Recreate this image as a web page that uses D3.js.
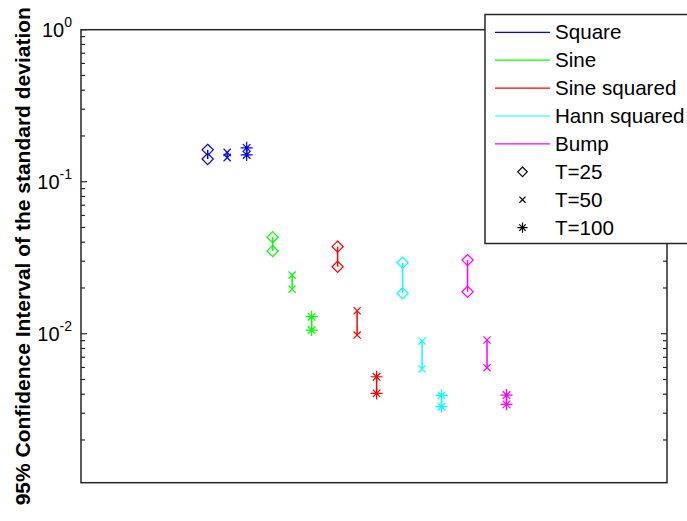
<!DOCTYPE html>
<html>
<head>
<meta charset="utf-8">
<script src="https://cdn.jsdelivr.net/npm/d3@7"></script>
<style>
  html, body { margin: 0; padding: 0; background: #fff; }
  svg { display: block; font-family: "Liberation Sans", Arial, sans-serif; }
</style>
</head>
<body>
<svg id="chart" width="687" height="521"></svg>
<script>
// ---- data ----
const categories = ["Square", "Sine", "Sine squared", "Hann squared", "Bump"];
const seriesColors = ["#0000ff", "#00ff00", "#ff0000", "#00ffff", "#ff00ff"];
const periods = ["T=25", "T=50", "T=100"];
const periodMarkers = ["diamond", "x", "asterisk"];
// lower / upper ends of the 95% CI, per category, per period (T=25, T=50, T=100)
const lowerBounds = [
  [0.141, 0.144, 0.150],
  [0.0350, 0.0196, 0.01057],
  [0.0276, 0.0098, 0.00405],
  [0.01845, 0.00586, 0.00331],
  [0.0189, 0.00598, 0.00343]
];
const upperBounds = [
  [0.162, 0.156, 0.167],
  [0.0431, 0.0243, 0.01294],
  [0.0374, 0.01416, 0.00521],
  [0.0293, 0.00895, 0.00393],
  [0.0305, 0.0091, 0.00395]
];
const yTickValues = [1, 0.1, 0.01];
const yTickExponents = ["0", "-1", "-2"];

// ---- layout ----
const svg = d3.select("#chart");
const mLeft = 81, mRight = 667, mTop = 29.7, mBottom = 482.7;

const x = d3.scaleLinear().domain([-0.95, 8.07]).range([mLeft, mRight]);
const y = d3.scaleLog().domain([Math.pow(10, -2.98), 1]).range([mBottom, mTop]);

// ---- points ----
const points = [];
categories.forEach((c, gi) => {
  periods.forEach((p, ti) => {
    points.push({
      cat: c, gi, ti,
      xv: (gi + 1) + 0.3 * ti,
      lo: lowerBounds[gi][ti],
      hi: upperBounds[gi][ti]
    });
  });
});

function drawMarker(g, type, cx, cy, color, scale) {
  const s = scale || 1;
  if (type === "diamond") {
    const h = 5.6 * s;
    g.append("path")
      .attr("d", `M${cx},${cy - h}L${cx + h},${cy}L${cx},${cy + h}L${cx - h},${cy}Z`)
      .attr("fill", "none").attr("stroke", color).attr("stroke-width", 1.2);
  } else if (type === "x") {
    const h = 3.6 * s;
    g.append("path")
      .attr("d", `M${cx - h},${cy - h}L${cx + h},${cy + h}M${cx - h},${cy + h}L${cx + h},${cy - h}`)
      .attr("fill", "none").attr("stroke", color).attr("stroke-width", 1.2);
  } else {
    const h = 6 * s, d = 3.8 * s;
    g.append("path")
      .attr("d", `M${cx - h},${cy}L${cx + h},${cy}M${cx},${cy - h}L${cx},${cy + h}` +
                 `M${cx - d},${cy - d}L${cx + d},${cy + d}M${cx - d},${cy + d}L${cx + d},${cy - d}`)
      .attr("fill", "none").attr("stroke", color).attr("stroke-width", 1.2);
    g.append("circle").attr("cx", cx).attr("cy", cy).attr("r", 1.8 * s).attr("fill", color);
  }
}

// axes box
svg.append("rect")
  .attr("x", mLeft).attr("y", mTop)
  .attr("width", mRight - mLeft).attr("height", mBottom - mTop)
  .attr("fill", "#fff").attr("stroke", "#262626").attr("stroke-width", 1.5);

// y ticks (major + minor) on left and right
const tickG = svg.append("g");
const [d0, d1] = y.domain();
for (let e = -3; e <= 0; e++) {
  for (let m = 1; m <= 9; m++) {
    const v = m * Math.pow(10, e);
    if (v < d0 * 0.999 || v > d1 * 1.001) continue;
    const py = y(v);
    const len = m === 1 ? 6 : 4;
    tickG.append("line").attr("x1", mLeft).attr("x2", mLeft + len)
      .attr("y1", py).attr("y2", py).attr("stroke", "#262626").attr("stroke-width", 1.2);
    tickG.append("line").attr("x1", mRight).attr("x2", mRight - len)
      .attr("y1", py).attr("y2", py).attr("stroke", "#262626").attr("stroke-width", 1.2);
  }
}

// y tick labels
yTickValues.forEach((v, i) => {
  const t = svg.append("text")
    .attr("x", 72).attr("y", y(v) + 7)
    .attr("text-anchor", "end")
    .attr("font-size", 20).attr("fill", "#000");
  t.append("tspan").text("10");
  t.append("tspan").attr("dy", -10).attr("font-size", 14).text(yTickExponents[i]);
});

// y label
svg.append("text")
  .attr("transform", `translate(30, ${(mTop + mBottom) / 2}) rotate(-90)`)
  .attr("text-anchor", "middle")
  .attr("font-size", 21).attr("font-weight", "bold").attr("fill", "#000")
  .text("95% Confidence Interval of the standard deviation");

// error bars
const plotG = svg.append("g");
points.forEach(p => {
  const color = seriesColors[p.gi];
  const px = x(p.xv);
  plotG.append("line")
    .attr("x1", px).attr("x2", px)
    .attr("y1", y(p.lo)).attr("y2", y(p.hi))
    .attr("stroke", color).attr("stroke-width", 1.5);
  drawMarker(plotG, periodMarkers[p.ti], px, y(p.lo), color);
  drawMarker(plotG, periodMarkers[p.ti], px, y(p.hi), color);
});

// legend
const lg = svg.append("g");
const lgX = 485, lgY = 14.5, lgW = 205, lgH = 229;
lg.append("rect").attr("x", lgX).attr("y", lgY).attr("width", lgW).attr("height", lgH)
  .attr("fill", "#fff").attr("stroke", "#262626").attr("stroke-width", 1.5);
const rowY = i => 32.3 + i * 27.9;
categories.forEach((c, i) => {
  lg.append("line").attr("x1", 495).attr("x2", 550)
    .attr("y1", rowY(i)).attr("y2", rowY(i))
    .attr("stroke", seriesColors[i]).attr("stroke-width", 1.2);
  lg.append("text").attr("x", 555).attr("y", rowY(i) + 7)
    .attr("font-size", 20.6).attr("fill", "#000").text(c);
});
periods.forEach((p, i) => {
  const ry = rowY(categories.length + i);
  drawMarker(lg, periodMarkers[i], 522.5, ry, "#000", 0.85);
  lg.append("text").attr("x", 555).attr("y", ry + 7)
    .attr("font-size", 20.6).attr("fill", "#000").text(p);
});
</script>
</body>
</html>
